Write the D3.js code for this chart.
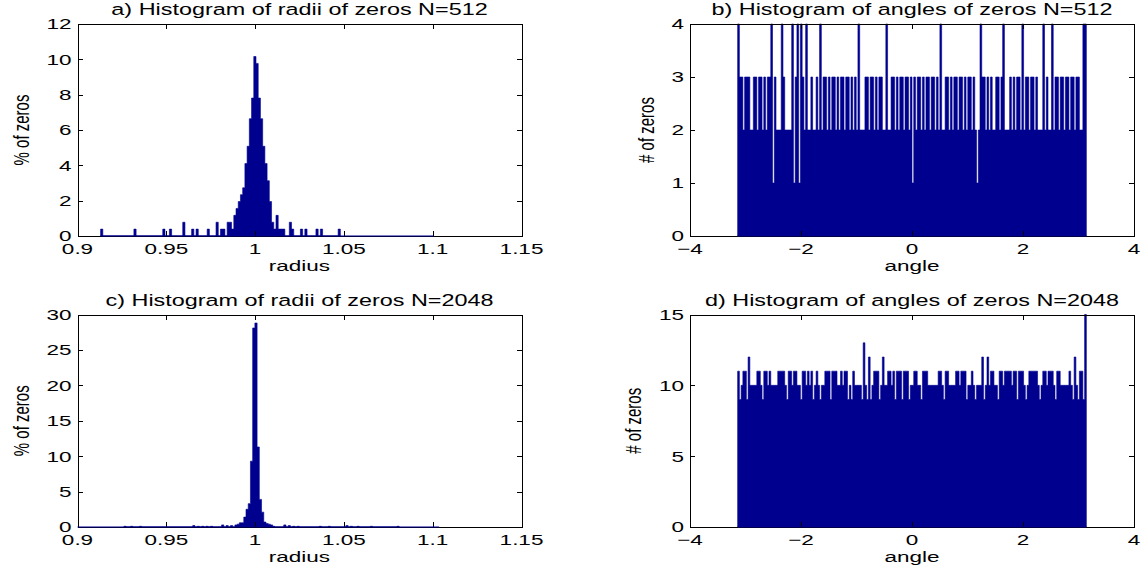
<!DOCTYPE html>
<html>
<head>
<meta charset="utf-8">
<script src="https://cdn.jsdelivr.net/npm/d3@7"></script>
<style>
  html, body { margin: 0; padding: 0; background: #fff; }
  svg { display: block; }
</style>
</head>
<body>
<svg id="fig" width="1146" height="571"></svg>
<script>
// ---------- data ----------
// a) radii of zeros, N=512: bin centres and percentage of zeros per bin
const radiiRangeA = [0.913, 1.1005];
const radiiStepA = 0.00125;
const radiiA = [0.91363, 0.93238, 0.94863, 0.95238, 0.95988, 0.96488, 0.96738, 0.97363,
  0.97863, 0.98113, 0.98238, 0.98488, 0.98613, 0.98738, 0.98863, 0.98988, 0.99113,
  0.99238, 0.99363, 0.99488, 0.99613, 0.99738, 0.99863, 0.99988, 1.00113, 1.00238,
  1.00363, 1.00488, 1.00613, 1.00738, 1.00863, 1.00988, 1.01113, 1.01238, 1.01363,
  1.01488, 1.01613, 1.01988, 1.02113, 1.02613, 1.02863, 1.03488, 1.03738, 1.04738];
const pctA = [0.39, 0.39, 0.39, 0.39, 0.78, 0.39, 0.39, 0.39,
  0.78, 0.39, 0.39, 0.78, 0.78, 0.39, 1.17, 1.56, 1.95,
  2.34, 2.73, 4.10, 5.08, 6.64, 7.81, 10.16, 9.77, 7.81,
  6.64, 5.08, 4.10, 3.13, 1.95, 0.78, 0.39, 1.17, 0.39,
  0.39, 0.39, 0.78, 0.39, 0.39, 0.39, 0.39, 0.39, 0.39];

// c) radii of zeros, N=2048
const radiiRangeC = [0.899875, 1.103625];
const radiiStepC = 0.00125;
const radiiC = [0.92675, 0.9305, 0.9355, 0.9655, 0.968, 0.9705, 0.973, 0.9755,
  0.98175, 0.98425, 0.98675, 0.98925, 0.9905, 0.99175, 0.993, 0.99425, 0.9955,
  0.99675, 0.998, 0.99925, 1.0005, 1.00175, 1.003, 1.00425, 1.0055, 1.00675,
  1.008, 1.00925, 1.0105, 1.01675, 1.01925, 1.02175, 1.02425, 1.03675, 1.04175,
  1.05175, 1.05425, 1.058, 1.0655, 1.0805];
const pctC = [0.1, 0.1, 0.1, 0.2, 0.1, 0.1, 0.1, 0.1,
  0.3, 0.2, 0.2, 0.3, 0.4, 0.6, 0.6, 1.4, 2.5,
  3.3, 9.3, 28.1, 28.8, 11.3, 3.9, 2.1, 0.7, 0.5,
  0.4, 0.3, 0.1, 0.3, 0.2, 0.1, 0.1, 0.1, 0.1,
  0.2, 0.1, 0.1, 0.1, 0.1];

// b) angles of zeros, N=512: 200 bins over [-pi, pi], number of zeros per bin
const angleRange = [-Math.PI, Math.PI];
const countsB = [
  4,3,3,2,3,3,3,2,2,3, 3,2,3,3,2,3,2,3,3,4,
  1,3,2,2,2,4,3,2,2,2, 2,4,1,3,4,1,4,3,2,4,
  2,2,3,2,2,3,2,4,2,3, 3,2,3,2,3,3,2,3,2,3,
  3,2,3,3,2,3,2,3,2,4, 2,2,2,3,3,2,3,3,2,3,
  2,3,3,2,2,4,2,2,3,3, 2,3,2,3,3,2,3,3,2,3,
  1,3,2,3,3,2,3,2,3,3, 2,3,3,2,3,2,4,2,2,3,
  3,2,3,2,3,3,2,3,3,2, 3,2,3,3,2,3,2,1,2,4,
  3,3,2,3,2,3,2,2,3,3, 2,3,4,2,2,2,3,2,3,2,
  3,3,2,4,2,3,3,2,3,3, 2,3,2,2,2,4,2,3,2,2,
  4,2,3,3,2,3,3,2,3,3, 2,3,3,2,3,3,2,2,4,4];

// d) angles of zeros, N=2048
const countsD = [
  11,9,10,11,11,9,12,10,10,10, 10,11,11,10,9,11,11,10,11,10,
  10,10,10,11,11,11,11,10,9,11, 11,10,11,11,10,10,9,11,11,10,
  11,10,11,9,10,11,10,9,10,10, 11,11,11,9,11,11,11,10,10,11,
  10,11,11,9,10,9,11,10,10,10, 10,9,13,10,9,12,9,10,11,11,
  11,9,10,12,10,10,11,11,10,11, 9,11,11,11,9,11,11,11,9,10,
  10,11,11,10,10,9,11,11,11,10, 10,10,10,10,10,11,11,10,9,11,
  11,10,10,10,10,11,11,10,11,11, 11,9,10,10,11,10,9,10,10,10,
  12,9,10,12,10,11,11,10,10,9, 11,11,10,11,11,11,11,10,11,11,
  9,11,11,11,10,9,10,11,11,11, 11,11,10,9,10,11,11,10,11,11,
  11,10,9,11,11,10,10,10,10,10, 11,10,9,12,10,9,11,11,9,15];

// axis ticks
const radiusTicks = [0.9, 0.95, 1, 1.05, 1.1, 1.15];
const radiusTickLabels = ["0.9", "0.95", "1", "1.05", "1.1", "1.15"];
const angleTicks = [-4, -2, 0, 2, 4];
const angleTickLabels = ["\u22124", "\u22122", "0", "2", "4"];
const pctTicksA = [0, 2, 4, 6, 8, 10, 12];
const countTicksB = [0, 1, 2, 3, 4];
const pctTicksC = [0, 5, 10, 15, 20, 25, 30];
const countTicksD = [0, 5, 10, 15];

// ---------- drawing ----------
const BAR = "#00008f";
const FONT = '"Liberation Sans", Arial, Helvetica, sans-serif';
const FS = 15;       // font size
const SX = 1.5;      // horizontal stretch of the lettering
const TICK = 5;

const svg = d3.select("#fig");
svg.append("rect").attr("width", 1146).attr("height", 571).attr("fill", "#fff");

function txt(g, x, y, s, anchor, rot, dy, size) {
  return g.append("text")
    .attr("transform", `translate(${x},${y}) scale(${SX},1)` + (rot ? ` rotate(${rot})` : ""))
    .attr("text-anchor", anchor)
    .attr("dy", dy || 0)
    .attr("font-family", FONT)
    .attr("font-size", size || FS)
    .attr("fill", "#000")
    .text(s);
}

// outline of a histogram as one stepped polygon (no seams between bins)
function stepPoints(bins, step) {
  const pts = [];
  let prevRight = null;
  bins.filter(d => d.v > 0).forEach(d => {
    const l = d.c - step / 2, r = d.c + step / 2;
    if (prevRight === null) pts.push([l, 0]);
    else if (l > prevRight + step * 0.01) { pts.push([prevRight, 0]); pts.push([l, 0]); }
    pts.push([l, d.v]); pts.push([r, d.v]);
    prevRight = r;
  });
  if (prevRight !== null) pts.push([prevRight, 0]);
  return pts;
}

function panel(p) {
  const g = svg.append("g");
  const x = d3.scaleLinear().domain(p.xDomain).range([p.left, p.right]);
  const y = d3.scaleLinear().domain(p.yDomain).range([p.bottom, p.top]);

  const cid = "clip-" + p.id;
  svg.append("clipPath").attr("id", cid).append("rect")
    .attr("x", p.left).attr("y", p.top - 1)
    .attr("width", p.right - p.left).attr("height", p.bottom - p.top + 2);

  const area = d3.area().x(d => x(d[0])).y0(y(0)).y1(d => y(d[1]));
  g.append("path")
    .attr("clip-path", `url(#${cid})`)
    .attr("d", area(stepPoints(p.bins, p.step)))
    .attr("fill", BAR)
    .attr("stroke", BAR)
    .attr("stroke-width", 0.6)
    .attr("stroke-linejoin", "miter");

  // axes box with inward ticks on all four sides
  const axes = g.append("g").attr("shape-rendering", "crispEdges");
  axes.append("g").attr("transform", `translate(0,${p.bottom})`)
    .call(d3.axisBottom(x).tickValues(p.xTicks).tickSizeInner(-TICK).tickSizeOuter(0).tickFormat(""));
  axes.append("g").attr("transform", `translate(0,${p.top})`)
    .call(d3.axisTop(x).tickValues(p.xTicks).tickSizeInner(-TICK).tickSizeOuter(0).tickFormat(""));
  axes.append("g").attr("transform", `translate(${p.left},0)`)
    .call(d3.axisLeft(y).tickValues(p.yTicks).tickSizeInner(-TICK).tickSizeOuter(0).tickFormat(""));
  axes.append("g").attr("transform", `translate(${p.right},0)`)
    .call(d3.axisRight(y).tickValues(p.yTicks).tickSizeInner(-TICK).tickSizeOuter(0).tickFormat(""));
  axes.selectAll("path.domain").attr("stroke", "#000").attr("stroke-width", 1);
  axes.selectAll(".tick line").attr("stroke", "#000").attr("stroke-width", 1);

  // empty bins drawn as a flat line along zero
  g.append("line")
    .attr("x1", Math.max(x(p.range[0]), p.left)).attr("x2", Math.min(x(p.range[1]), p.right))
    .attr("y1", y(0)).attr("y2", y(0))
    .attr("stroke", BAR).attr("stroke-width", 1.2);

  // tick labels
  p.xTicks.forEach((t, i) => txt(g, x(t), p.bottom + 18, p.xTickLabels[i], "middle"));
  p.yTicks.forEach(t => txt(g, p.left - 6, y(t), String(t), "end", 0, "0.36em"));

  // titles
  const cx = (p.left + p.right) / 2;
  txt(g, cx, p.top - 9, p.title, "middle", 0, 0, 15.6);
  txt(g, cx, p.bottom + 35, p.xLabel, "middle");
  txt(g, p.yLabelX, (p.top + p.bottom) / 2, p.yLabel, "middle", -90, "0.36em");
}

function sparseBins(centres, values) {
  return centres.map((c, i) => ({ c: c, v: values[i] }));
}
function evenBins(range, counts) {
  const w = (range[1] - range[0]) / counts.length;
  return counts.map((v, i) => ({ c: range[0] + (i + 0.5) * w, v: v }));
}

const colL = [77.5, 521.5], colR = [690, 1134];
const rowT = [24, 236], rowB = [314.5, 527];

panel({
  id: "a", left: colL[0], right: colL[1], top: rowT[0], bottom: rowT[1],
  xDomain: [0.9, 1.15], yDomain: [0, 12], xTicks: radiusTicks, xTickLabels: radiusTickLabels,
  yTicks: pctTicksA, bins: sparseBins(radiiA, pctA), step: radiiStepA, range: radiiRangeA,
  title: "a) Histogram of radii of zeros N=512", xLabel: "radius", yLabel: "% of zeros", yLabelX: 21
});
panel({
  id: "b", left: colR[0], right: colR[1], top: rowT[0], bottom: rowT[1],
  xDomain: [-4, 4], yDomain: [0, 4], xTicks: angleTicks, xTickLabels: angleTickLabels,
  yTicks: countTicksB, bins: evenBins(angleRange, countsB),
  step: (angleRange[1] - angleRange[0]) / countsB.length, range: angleRange,
  title: "b) Histogram of angles of zeros N=512", xLabel: "angle", yLabel: "# of zeros", yLabelX: 646
});
panel({
  id: "c", left: colL[0], right: colL[1], top: rowB[0], bottom: rowB[1],
  xDomain: [0.9, 1.15], yDomain: [0, 30], xTicks: radiusTicks, xTickLabels: radiusTickLabels,
  yTicks: pctTicksC, bins: sparseBins(radiiC, pctC), step: radiiStepC, range: radiiRangeC,
  title: "c) Histogram of radii of zeros N=2048", xLabel: "radius", yLabel: "% of zeros", yLabelX: 21
});
panel({
  id: "d", left: colR[0], right: colR[1], top: rowB[0], bottom: rowB[1],
  xDomain: [-4, 4], yDomain: [0, 15], xTicks: angleTicks, xTickLabels: angleTickLabels,
  yTicks: countTicksD, bins: evenBins(angleRange, countsD),
  step: (angleRange[1] - angleRange[0]) / countsD.length, range: angleRange,
  title: "d) Histogram of angles of zeros N=2048", xLabel: "angle", yLabel: "# of zeros", yLabelX: 633
});
</script>
</body>
</html>
